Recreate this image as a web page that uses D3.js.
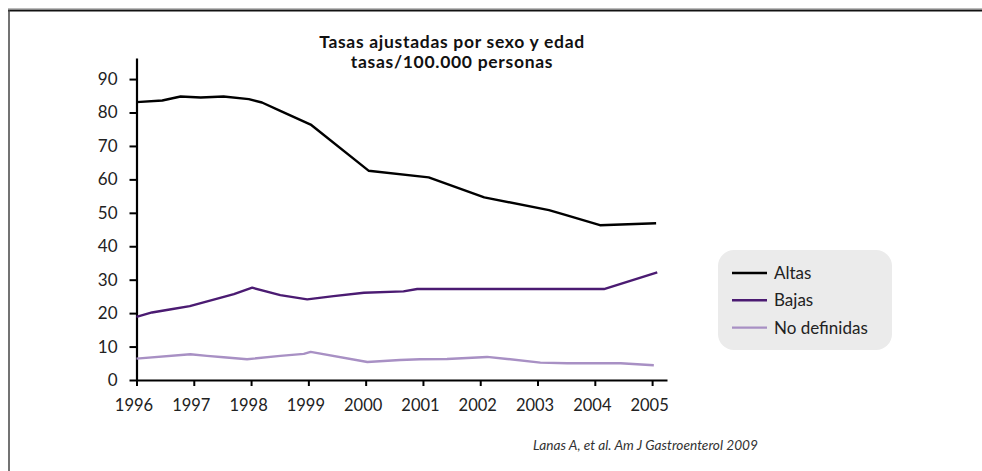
<!DOCTYPE html>
<html>
<head>
<meta charset="utf-8">
<script src="https://cdn.jsdelivr.net/npm/d3@7"></script>
<style>
  html, body { margin: 0; padding: 0; background: #fff; }
  svg { display: block; font-family: Lato, "Open Sans", sans-serif; }
</style>
</head>
<body>
<svg id="chart" width="982" height="471"></svg>
<script>
// ---- data ----
const titleLines = ["Tasas ajustadas por sexo y edad", "tasas/100.000 personas"];
const yearTicks = [1996, 1997, 1998, 1999, 2000, 2001, 2002, 2003, 2004, 2005];
const valueTicks = [0, 10, 20, 30, 40, 50, 60, 70, 80, 90];
const seriesNames = ["Altas", "Bajas", "No definidas"];

const altasYears = [1996.0, 1996.45, 1996.77, 1997.12, 1997.52, 1997.96, 1998.19, 1998.51, 1999.04, 2000.05, 2001.1, 2002.07, 2003.2, 2003.5, 2004.09, 2005.07];
const altasValues = [83.1, 83.6, 84.8, 84.5, 84.8, 84.0, 83.0, 80.5, 76.4, 62.6, 60.6, 54.6, 50.8, 49.3, 46.3, 46.9];

const bajasYears = [1996.0, 1996.27, 1996.58, 1996.93, 1997.7, 1998.02, 1998.51, 1998.98, 1999.44, 1999.97, 2000.66, 2000.9, 2004.16, 2005.09];
const bajasValues = [18.9, 20.2, 21.1, 22.1, 25.7, 27.6, 25.4, 24.1, 25.1, 26.1, 26.5, 27.2, 27.2, 32.2];

const noDefYears = [1996.0, 1996.94, 1997.23, 1997.52, 1997.93, 1998.51, 1998.92, 1999.04, 2000.03, 2000.6, 2000.95, 2001.42, 2002.12, 2002.47, 2003.05, 2003.52, 2004.45, 2005.03];
const noDefValues = [6.4, 7.7, 7.2, 6.8, 6.2, 7.2, 7.8, 8.4, 5.4, 6.0, 6.2, 6.3, 6.9, 6.3, 5.2, 5.0, 5.0, 4.4];

const citation = "Lanas A, et al. Am J Gastroenterol 2009";

// ---- drawing ----
const svg = d3.select("#chart");
const colors = ["#000000", "#4b1b72", "#a890c4"];

// frame
svg.append("line").attr("x1", 8).attr("x2", 982).attr("y1", 8.5).attr("y2", 8.5)
  .attr("stroke", "#bbb").attr("stroke-width", 1);
svg.append("line").attr("x1", 8).attr("x2", 982).attr("y1", 10.5).attr("y2", 10.5)
  .attr("stroke", "#111").attr("stroke-width", 2);
svg.append("line").attr("x1", 9).attr("x2", 9).attr("y1", 10).attr("y2", 471)
  .attr("stroke", "#444").attr("stroke-width", 1.5);

const x = d3.scaleLinear().domain([1996, 2005.26]).range([136.5, 667]);
const y = d3.scaleLinear().domain([0, 96.3]).range([380, 58]);

// title
svg.append("g").selectAll("text").data(titleLines).join("text")
  .attr("x", 452).attr("y", (d, i) => 48 + i * 20)
  .attr("text-anchor", "middle")
  .attr("font-size", 17.5).attr("font-weight", "bold").attr("fill", "#111")
  .attr("letter-spacing", 0.7)
  .text(d => d);

// axes
const xAxis = svg.append("g").attr("transform", "translate(0,380)")
  .call(d3.axisBottom(x).tickValues(yearTicks).tickFormat(d3.format("d")).tickSize(6).tickSizeOuter(0).tickPadding(13));
const yAxis = svg.append("g").attr("transform", "translate(136.5,0)")
  .call(d3.axisLeft(y).tickValues(valueTicks).tickSize(7).tickSizeOuter(0).tickPadding(12));

[xAxis, yAxis].forEach(g => {
  g.select(".domain").attr("stroke", "#000").attr("stroke-width", 2.2);
  g.selectAll(".tick line").attr("stroke", "#000").attr("stroke-width", 2);
  g.selectAll(".tick text").attr("fill", "#222").attr("font-family", "Lato, sans-serif");
});
xAxis.selectAll(".tick text").attr("font-size", 16.5).attr("dx", -3);
yAxis.selectAll(".tick text").attr("font-size", 17);

// lines
const series = [
  { name: seriesNames[0], pts: d3.zip(altasYears, altasValues) },
  { name: seriesNames[1], pts: d3.zip(bajasYears, bajasValues) },
  { name: seriesNames[2], pts: d3.zip(noDefYears, noDefValues) }
];
const line = d3.line().x(d => x(d[0])).y(d => y(d[1]));
svg.append("g").selectAll("path").data(series.slice().reverse()).join("path")
  .attr("fill", "none")
  .attr("stroke", d => colors[seriesNames.indexOf(d.name)])
  .attr("stroke-width", 2.4)
  .attr("stroke-linejoin", "round")
  .attr("d", d => line(d.pts));

// legend
const lg = svg.append("g").attr("transform", "translate(718,250)");
lg.append("rect").attr("width", 174).attr("height", 100).attr("rx", 16).attr("ry", 16)
  .attr("fill", "#ebebeb");
const items = lg.selectAll("g.item").data(seriesNames).join("g")
  .attr("transform", (d, i) => `translate(0,${23 + i * 27.3})`);
items.append("line").attr("x1", 14).attr("x2", 49).attr("y1", 0).attr("y2", 0)
  .attr("stroke", (d, i) => colors[i]).attr("stroke-width", 2.4);
items.append("text").attr("x", 56).attr("y", 0).attr("dy", "0.35em")
  .attr("font-size", 17).attr("fill", "#222").text(d => d);

// citation
svg.append("text").attr("x", 533).attr("y", 450)
  .attr("font-size", 13.7).attr("font-style", "italic").attr("fill", "#333")
  .text(citation);
</script>
</body>
</html>
